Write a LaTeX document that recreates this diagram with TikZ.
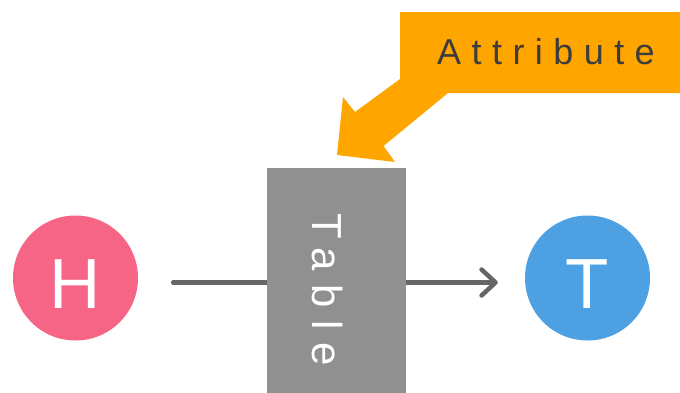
\documentclass[tikz,border=0pt]{standalone}
\usepackage{fontspec}
\setmainfont{Liberation Sans}
\newfontfamily\attrfont[LetterSpace=29]{Liberation Sans}
\newfontfamily\tablefont[LetterSpace=31]{Liberation Sans}
\usetikzlibrary{arrows.meta}
\definecolor{hpink}{HTML}{F66486}
\definecolor{tblue}{HTML}{4DA1E3}
\definecolor{tgray}{HTML}{909090}
\definecolor{lgray}{HTML}{666666}
\definecolor{attrorange}{HTML}{FFA500}
\definecolor{txtdark}{HTML}{3D3D3D}
\begin{document}
\begin{tikzpicture}[x=1pt,y=-1pt,
  entity/.style={circle, draw=none, minimum size=125pt, inner sep=0pt, text=white,
    font=\fontsize{71}{71}\selectfont, text height=60pt, text depth=0pt},
  relline/.style={draw=lgray, line width=4.5pt, line cap=round,
    -{Straight Barb[length=14pt,width=26pt,round]}},
  tablebox/.style={fill=tgray, draw=none, minimum width=244pt, minimum height=138.5pt,
    inner sep=0pt, text=white, font=\tablefont\fontsize{42}{42}\selectfont,
    text height=47.5pt, text depth=0pt},
  attrtext/.style={text=txtdark, inner sep=0pt, font=\attrfont\fontsize{36}{36}\selectfont}]
\useasboundingbox (0,0) rectangle (680,392);
\clip (0,0) rectangle (680,392);
\node[entity, fill=hpink] (H) at (75.5,278) {H};
\node[entity, fill=tblue] (T) at (587.5,278) {T};
\draw[relline] ([shift={(35,4.5)}]H.east) -- ([shift={(-27,4.5)}]T.west);
\node[tablebox, rotate=-90] (table) at (336.5,290) {Table};
\fill[attrorange] (400,12) -- (690,12) -- (690,93) -- (448,93) -- (383.5,146)
  -- (395,162) -- (337,155) -- (343,97) -- (355,112) -- (400,79) -- cycle;
\node[attrtext] (attr) at (546,52) {Attribute};
\end{tikzpicture}
\end{document}
